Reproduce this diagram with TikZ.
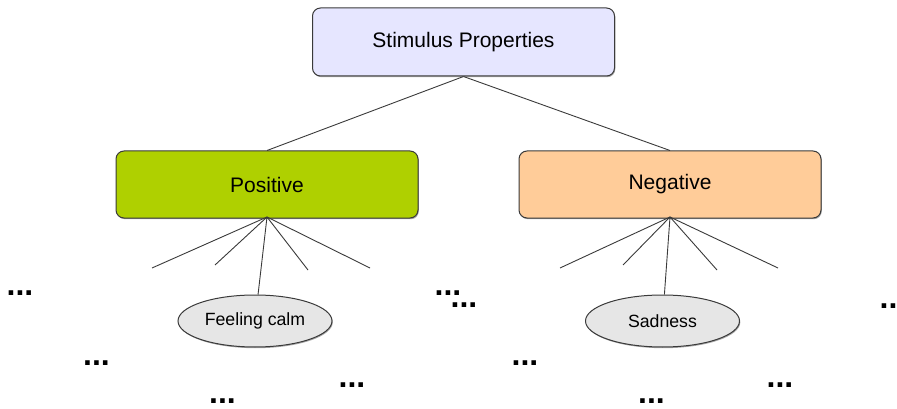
\documentclass[tikz,border=0pt]{standalone}
\usepackage{fontspec}
\setmainfont{Liberation Sans}
\usetikzlibrary{shapes.geometric,shadows}
\definecolor{rootfill}{HTML}{E6E6FF}
\definecolor{posfill}{HTML}{AFD000}
\definecolor{negfill}{HTML}{FFCC99}
\definecolor{leaffill}{HTML}{E6E6E6}
\definecolor{edgecol}{HTML}{3A3A3A}
\tikzset{
  softshadow/.style={drop shadow={shadow xshift=0.8pt,shadow yshift=-1.2pt,fill=black,opacity=0.35}},
  catbox/.style={draw=edgecol,line width=1pt,rounded corners=8pt,minimum width=302pt,
    minimum height=67pt,inner sep=0pt,font=\fontsize{21}{25}\selectfont,softshadow},
  leaf/.style={ellipse,draw=edgecol,line width=1pt,fill=leaffill,minimum width=154pt,
    minimum height=52pt,inner sep=0pt,font=\fontsize{17.7}{21}\selectfont,softshadow},
  link/.style={draw=edgecol,line width=0.9pt},
  more/.style={anchor=base,inner sep=0pt,font=\fontsize{32}{32}\selectfont\bfseries}
}
\begin{document}
\begin{tikzpicture}[x=1pt,y=-1pt]
\useasboundingbox (0,0) rectangle (897,409);

% category hierarchy
\node[catbox,fill=rootfill,minimum height=68pt] (root) at (463.5,42) {Stimulus Properties};
\node[catbox,fill=posfill] (pos) at (267,184.5) {Positive};
\node[catbox,fill=negfill] (neg) at (670,184.5) {Negative};

\draw[link] (root.south) -- (pos.north);
\draw[link] (root.south) -- (neg.north);

% example leaves
\node[leaf] (calm) at (255,321) {Feeling calm};
\node[leaf] (sad) at (662.5,321) {Sadness};

% open-ended branches under each category
\coordinate (p1) at (152,268);
\coordinate (p2) at (215,265);
\coordinate (p3) at (308,270);
\coordinate (p4) at (370,268);
\coordinate (n1) at (560,268);
\coordinate (n2) at (623,265);
\coordinate (n3) at (717,270);
\coordinate (n4) at (778,268);
\coordinate (pf) at ([yshift=1.5pt]pos.south);
\coordinate (nf) at ([yshift=1.5pt]neg.south);

\foreach \e in {p1,p2,p3,p4,calm} \draw[link] (pf) -- (\e);
\foreach \e in {n1,n2,n3,n4,sad} \draw[link] (nf) -- (\e);

% ellipses marking further stimuli
\node[more] (m1) at (20,295) {...};
\node[more] (m2) at (96.5,365) {...};
\node[more] (m3) at (222.5,403) {...};
\node[more] (m4) at (352,387) {...};
\node[more] (m5) at (448,295) {...};
\node[more] (m6) at (464,307) {...};
\node[more] (m7) at (525,365) {...};
\node[more] (m8) at (651.5,403) {...};
\node[more] (m9) at (780,387) {...};
\node[more] (m10) at (893,308) {...};
\end{tikzpicture}
\end{document}
